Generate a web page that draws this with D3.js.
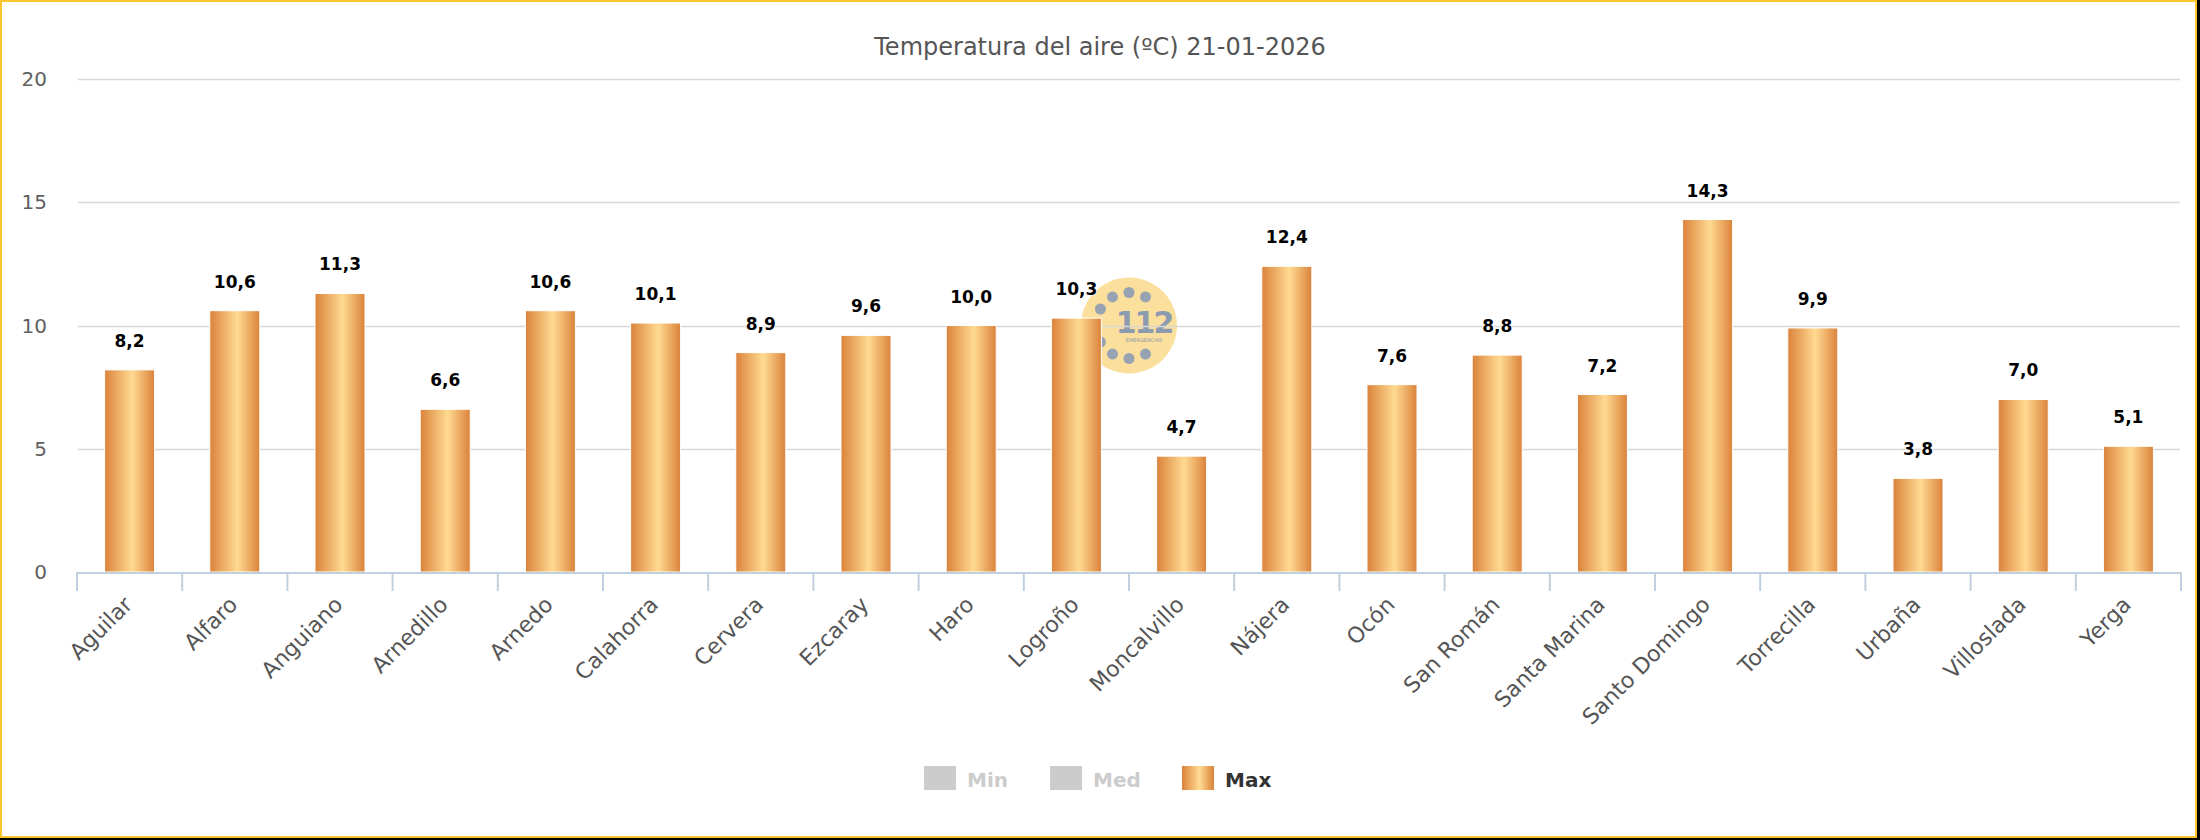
<!DOCTYPE html>
<html>
<head>
<meta charset="utf-8">
<script src="https://cdn.jsdelivr.net/npm/d3@7"></script>
<style>
  html, body { margin: 0; padding: 0; background: #000; }
  svg { display: block; }
</style>
</head>
<body>
<svg id="chart" width="2200" height="840"></svg>
<script>
// datos
var estaciones = ["Aguilar","Alfaro","Anguiano","Arnedillo","Arnedo","Calahorra","Cervera","Ezcaray","Haro","Logroño",
                  "Moncalvillo","Nájera","Ocón","San Román","Santa Marina","Santo Domingo","Torrecilla","Urbaña","Villoslada","Yerga"];
var tempMax = [8.2,10.6,11.3,6.6,10.6,10.1,8.9,9.6,10.0,10.3,4.7,12.4,7.6,8.8,7.2,14.3,9.9,3.8,7.0,5.1];
var yTicks = [0,5,10,15,20];
var series = ["Min","Med","Max"];
var titulo = "Temperatura del aire (ºC) 21-01-2026";

var svg = d3.select("#chart");
var fuente = "'DejaVu Sans', sans-serif";

// marco
svg.append("rect").attr("x",0).attr("y",0).attr("width",2197).attr("height",838).attr("fill","#fbc52e");
svg.append("rect").attr("x",2).attr("y",2).attr("width",2193).attr("height",834).attr("fill","#fff");

var pLeft = 77, pRight = 2181, pTop = 79, pBottom = 572;

var x = d3.scaleBand().domain(estaciones).range([pLeft,pRight]).padding(0);
var y = d3.scaleLinear().domain([0,20]).range([pBottom,pTop]);

// degradado de las barras
var defs = svg.append("defs");
var grad = defs.append("linearGradient").attr("id","gradMax")
    .attr("x1","0").attr("y1","0").attr("x2","1").attr("y2","0");
grad.append("stop").attr("offset","0%").attr("stop-color","#db823a");
grad.append("stop").attr("offset","55%").attr("stop-color","#ffda92");
grad.append("stop").attr("offset","100%").attr("stop-color","#db823a");

// logo 112 de fondo
var cx = (pLeft+pRight)/2, cy = (pTop+pBottom)/2;
var logo = svg.append("g").attr("transform","translate("+cx+","+cy+")");
logo.append("circle").attr("r",48).attr("fill","#fbdf9c");
[-150,-120,-90,-60,60,90,120,150].forEach(function(a){
    var r = a*Math.PI/180;
    logo.append("circle").attr("cx",33*Math.cos(r)).attr("cy",33*Math.sin(r)).attr("r",5.5).attr("fill","#97a3b3");
});
logo.append("text").attr("x",15).attr("y",7).attr("text-anchor","middle")
    .attr("font-family",fuente).attr("font-weight","bold").attr("font-size",30)
    .attr("fill","#8d9bb0").attr("letter-spacing",-2).text("112");
logo.append("text").attr("x",15).attr("y",16).attr("text-anchor","middle")
    .attr("font-family",fuente).attr("font-size",5).attr("fill","#8d9bb0").text("EMERGENCIAS");

// rejilla
svg.append("g").selectAll("line").data(yTicks.filter(function(d){return d>0;})).enter()
    .append("line")
    .attr("x1",pLeft+1).attr("x2",pRight-1)
    .attr("y1",function(d){return Math.round(y(d))+0.5;})
    .attr("y2",function(d){return Math.round(y(d))+0.5;})
    .attr("stroke","#d8d8d8").attr("stroke-width",1.6);

// eje y
svg.append("g").selectAll("text").data(yTicks).enter()
    .append("text")
    .attr("x",47).attr("y",function(d){return y(d);}).attr("dy","0.35em")
    .attr("text-anchor","end").attr("font-family",fuente).attr("font-size",20)
    .attr("fill","#606060").text(function(d){return d;});

// barras
svg.append("g").selectAll("rect").data(tempMax).enter()
    .append("rect")
    .attr("x",function(d,i){return x(estaciones[i])+x.bandwidth()/2-25;})
    .attr("width",50)
    .attr("y",function(d){return y(d);})
    .attr("height",function(d){return pBottom-y(d);})
    .attr("fill","url(#gradMax)")
    .attr("stroke","#fff").attr("stroke-width",1);

// eje x
var xAxis = d3.axisBottom(x).tickSize(19).tickFormat("");
var gx = svg.append("g").attr("transform","translate(0,"+pBottom+")").call(xAxis);
gx.select(".domain").attr("stroke","#c0d0e0").attr("stroke-width",2).attr("d","M"+pLeft+",1H"+pRight);
gx.selectAll(".tick").remove();
var bordes = d3.range(estaciones.length+1).map(function(i){return pLeft+i*x.step();});
gx.selectAll("line.sep").data(bordes).enter().append("line").attr("class","sep")
    .attr("x1",function(d){return d;}).attr("x2",function(d){return d;})
    .attr("y1",0).attr("y2",19).attr("stroke","#c0d0e0").attr("stroke-width",2);

svg.append("g").selectAll("text").data(estaciones).enter()
    .append("text")
    .attr("transform",function(d){return "translate("+(x(d)+x.bandwidth()/2+4)+","+(pBottom+34)+") rotate(-45)";})
    .attr("text-anchor","end").attr("font-family",fuente).attr("font-size",22)
    .attr("fill","#555").text(function(d){return d;});

// etiquetas de valor
svg.append("g").selectAll("text").data(tempMax).enter()
    .append("text")
    .attr("x",function(d,i){return x(estaciones[i])+x.bandwidth()/2;})
    .attr("y",function(d){return y(d)-23;})
    .attr("text-anchor","middle").attr("font-family",fuente).attr("font-weight","bold")
    .attr("font-size",17).attr("fill","#000")
    .attr("stroke","#fff").attr("stroke-width",2).attr("paint-order","stroke")
    .text(function(d){return d.toFixed(1).replace(".",",");});

// titulo
svg.append("text").attr("x",1100).attr("y",55).attr("text-anchor","middle")
    .attr("font-family",fuente).attr("font-size",24).attr("fill","#555").text(titulo);

// leyenda
var legX = [924,1050,1182];
var leg = svg.append("g").selectAll("g").data(series).enter().append("g")
    .attr("transform",function(d,i){return "translate("+legX[i]+",766)";});
leg.append("rect").attr("width",32).attr("height",24)
    .attr("fill",function(d){return d=="Max" ? "url(#gradMax)" : "#cccccc";});
leg.append("text").attr("x",43).attr("y",21).attr("font-family",fuente).attr("font-weight","bold")
    .attr("font-size",20).attr("fill",function(d){return d=="Max" ? "#333" : "#cccccc";})
    .text(function(d){return d;});
</script>
</body>
</html>
